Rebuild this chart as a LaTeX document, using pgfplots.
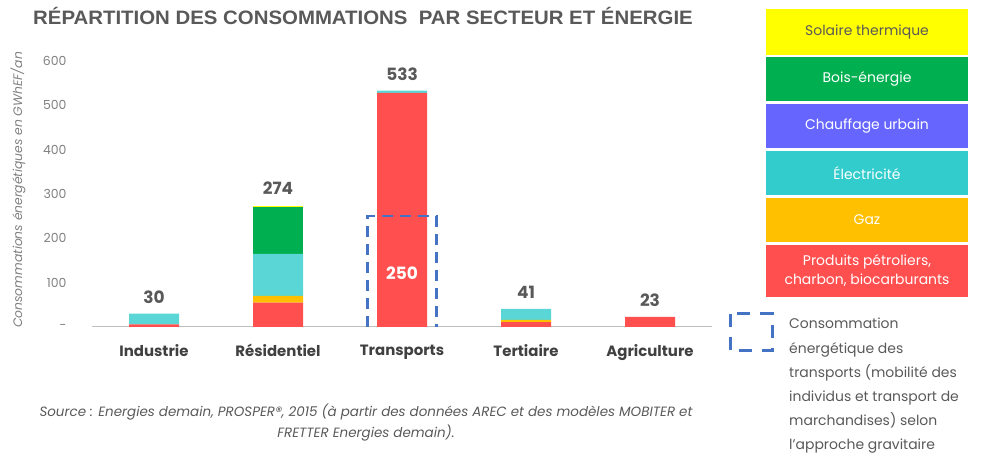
\documentclass[border=0pt]{standalone}
\usepackage{pgfplots}
\usepackage{pgfplotstable}
\pgfplotsset{compat=1.18}
\usepackage{fontspec}
\setmainfont{Poppins}
\newfontfamily\titlefont{Liberation Sans}
\definecolor{cRed}{HTML}{FF4F4F}
\definecolor{cGaz}{HTML}{FFC000}
\definecolor{cElec}{HTML}{5BD6D6}
\definecolor{cElecL}{HTML}{33CCCC}
\definecolor{cChauf}{HTML}{6666FF}
\definecolor{cBois}{HTML}{00B050}
\definecolor{cSol}{HTML}{FFFF00}
\definecolor{textgray}{HTML}{595959}
\definecolor{catgray}{HTML}{404040}
\definecolor{tickgray}{HTML}{808080}
\definecolor{axgray}{HTML}{BFBFBF}
\definecolor{dashblue}{HTML}{4472C4}

\pgfplotstableread{
x red gaz elec chauff bois sol total
0 6 0 24 0 0 0 30
1 55 15 95 0 105 4 274
2 528 0 5 0 0 0 533
3 11 5 25 0 0 0 41
4 23 0 0 0 0 0 23
}\datatable

\begin{document}
\begin{tikzpicture}[x=1bp,y=1bp]
\path[use as bounding box] (0,0) rectangle (989,457);
% title
\node[anchor=base, font=\titlefont\bfseries\fontsize{19.5}{22}\selectfont, text=textgray, inner sep=0pt] at (363,432) {\scalebox{1.05}[1]{RÉPARTITION DES CONSOMMATIONS \ PAR SECTEUR ET ÉNERGIE}};
% y label
\node[rotate=90, font=\itshape\fontsize{12.4}{14}\selectfont, text=tickgray] at (18,267) {Consommations énergétiques en GWhEF/an};

\begin{axis}[at={(92bp,130bp)}, anchor=south west, scale only axis,
  width=620bp, height=266bp,
  ybar stacked, bar width=50bp,
  xmin=-0.5, xmax=4.5, ymin=0, ymax=600,
  xtick={0,1,2,3,4},
  xticklabels={Industrie,Résidentiel,Transports,Tertiaire,Agriculture},
  ytick={0,100,200,300,400,500,600},
  yticklabels={-,100,200,300,400,500,600},
  axis x line*=bottom, axis y line*=left,
  y axis line style={draw=none},
  x axis line style={draw=axgray, line width=1bp},
  major tick length=0pt, tick style={draw=none},
  xticklabel style={font=\bfseries\fontsize{15}{17}\selectfont, text=catgray, yshift=-14bp},
  yticklabel style={font=\fontsize{12.5}{14}\selectfont, text=tickgray, xshift=-22bp},
  /pgf/number format/assume math mode=true,
  clip=false,
]
\addplot[fill=cRed, draw=none] table[x=x,y=red]{\datatable};
\addplot[fill=cGaz, draw=none] table[x=x,y=gaz]{\datatable};
\addplot[fill=cElec, draw=none] table[x=x,y=elec]{\datatable};
\addplot[fill=cChauf, draw=none] table[x=x,y=chauff]{\datatable};
\addplot[fill=cBois, draw=none] table[x=x,y=bois]{\datatable};
\addplot[fill=cSol, draw=none] table[x=x,y=sol]{\datatable};
\end{axis}

\begin{axis}[at={(92bp,130bp)}, anchor=south west, scale only axis,
  width=620bp, height=266bp,
  xmin=-0.5, xmax=4.5, ymin=0, ymax=600, hide axis, clip=false]
\addplot[draw=dashblue, line width=2.6bp, dash pattern=on 11bp off 7bp, mark=none]
  coordinates {(1.72,0) (1.72,250) (2.28,250) (2.28,0)};
\addplot[only marks, mark=none, point meta=explicit symbolic, nodes near coords,
  every node near coord/.append style={font=\bfseries\fontsize{17}{19}\selectfont, text=textgray, anchor=south, yshift=7bp}]
  table[x=x,y=total,meta=total]{\datatable};
\node[font=\bfseries\fontsize{17}{19}\selectfont, text=white] at (axis cs:2,122) {250};
\end{axis}

% legend boxes
\tikzset{lgbox/.style={minimum width=202bp, inner sep=0pt, align=center, font=\fontsize{14}{19}\selectfont, text=white}}
\node[lgbox, fill=cSol, minimum height=46bp, text=textgray] at (867,425) {Solaire thermique};
\node[lgbox, fill=cBois, minimum height=44bp] at (867,378) {Bois-énergie};
\node[lgbox, fill=cChauf, minimum height=44bp] at (867,331) {Chauffage urbain};
\node[lgbox, fill=cElecL, minimum height=44bp] at (867,284) {Électricité};
\node[lgbox, fill=cGaz, minimum height=44bp] at (867,237) {Gaz};
\node[lgbox, fill=cRed, minimum height=52bp] at (867,186) {Produits pétroliers,\\charbon, biocarburants};

% dashed legend
\draw[dashblue, line width=3bp, dash pattern=on 13bp off 10bp] (730,143) rectangle (772,106);
\node[anchor=north west, align=left, inner sep=0pt, font=\fontsize{14}{24.3}\selectfont, text=textgray] at (789,139)
  {Consommation\\énergétique des\\transports (mobilité des\\individus et transport de\\marchandises) selon\\l’approche gravitaire};

% source
\node[align=center, font=\itshape\fontsize{13.5}{21}\selectfont, text=textgray] at (366,34)
  {Source : Energies demain, PROSPER®, 2015 (à partir des données AREC et des modèles MOBITER et\\FRETTER Energies demain).};
\end{tikzpicture}
\end{document}
